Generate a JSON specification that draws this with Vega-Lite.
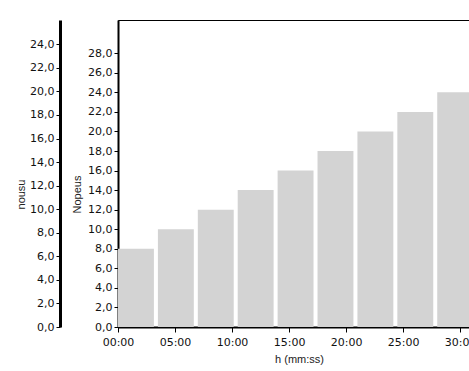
{
  "$schema": "https://vega.github.io/schema/vega-lite/v6.json",
  "width": 362,
  "height": 307,
  "autosize": {"type": "none"},
  "padding": {"left": 118, "top": 20, "right": 0, "bottom": 44},
  "background": "#ffffff",
  "config": {
    "view": {"stroke": "#000000", "strokeWidth": 1},
    "axis": {
      "labelFont": "DejaVu Sans",
      "labelFontSize": 11,
      "labelColor": "#111111",
      "labelFlush": false,
      "titleFont": "Liberation Sans",
      "titleFontSize": 11,
      "titleFontWeight": "normal",
      "titleColor": "#222222",
      "domainColor": "#000000",
      "tickColor": "#000000",
      "grid": false
    }
  },
  "data": {
    "values": [
      {"t": 0, "t2": 210, "Nopeus": 8},
      {"t": 210, "t2": 420, "Nopeus": 10},
      {"t": 420, "t2": 630, "Nopeus": 12},
      {"t": 630, "t2": 840, "Nopeus": 14},
      {"t": 840, "t2": 1050, "Nopeus": 16},
      {"t": 1050, "t2": 1260, "Nopeus": 18},
      {"t": 1260, "t2": 1470, "Nopeus": 20},
      {"t": 1470, "t2": 1680, "Nopeus": 22},
      {"t": 1680, "t2": 1890, "Nopeus": 24}
    ]
  },
  "layer": [
    {
      "mark": {"type": "bar", "color": "#d3d3d3", "x2Offset": -4},
      "encoding": {
        "x": {
          "field": "t",
          "type": "quantitative",
          "scale": {"domain": [0, 1905], "nice": false, "zero": false},
          "axis": {
            "title": "h (mm:ss)",
            "values": [0, 300, 600, 900, 1200, 1500, 1800],
            "labelExpr": "format(floor(datum.value/60),'02d') + ':' + format(datum.value%60,'02d')",
            "domainWidth": 2,
            "tickSize": 5,
            "labelPadding": 4,
            "titlePadding": 6
          }
        },
        "x2": {"field": "t2"},
        "y": {
          "field": "Nopeus",
          "type": "quantitative",
          "scale": {"domain": [0, 31.4], "nice": false},
          "axis": {
            "title": "Nopeus",
            "values": [0, 2, 4, 6, 8, 10, 12, 14, 16, 18, 20, 22, 24, 26, 28],
            "labelExpr": "replace(format(datum.value,'.1f'),'.',',')",
            "domainWidth": 2,
            "tickSize": 4,
            "labelPadding": 2,
            "titlePadding": 5,
            "titleY": 174
          }
        },
        "y2": {"datum": 0}
      }
    },
    {
      "mark": {"type": "point", "opacity": 0},
      "encoding": {
        "y": {
          "datum": 0,
          "type": "quantitative",
          "scale": {"domain": [0, 26.06], "nice": false},
          "axis": {
            "title": "nousu",
            "orient": "left",
            "offset": 58,
            "values": [0, 2, 4, 6, 8, 10, 12, 14, 16, 18, 20, 22, 24],
            "labelExpr": "replace(format(datum.value,'.1f'),'.',',')",
            "domainWidth": 3,
            "tickSize": 4,
            "labelPadding": 2,
            "titlePadding": 3,
            "titleY": 174
          }
        }
      }
    }
  ],
  "resolve": {"scale": {"y": "independent"}}
}
